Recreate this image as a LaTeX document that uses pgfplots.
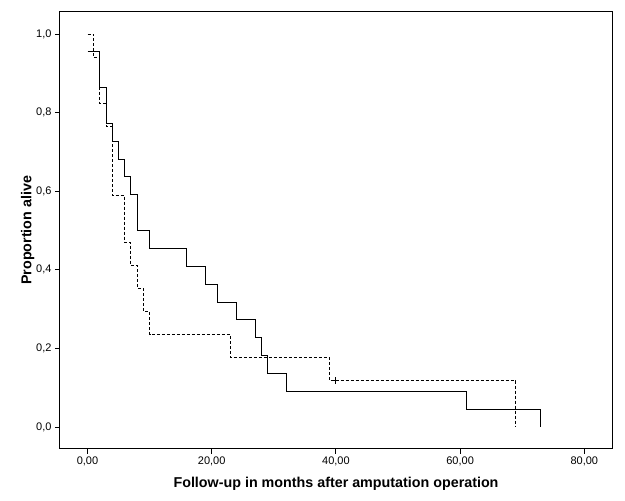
\documentclass[border=0pt]{standalone}
\usepackage{pgfplots}
\pgfplotsset{compat=1.18}
\usepackage{fontspec}
\setmainfont{Liberation Sans}
\begin{document}
\begin{tikzpicture}
\begin{axis}[
  name=ax,
  scale only axis,
  width=552pt, height=436.7pt,
  xmin=-4.43, xmax=84.46,
  ymin=-0.055, ymax=1.056,
  axis line style={line width=1pt},
  xtick={0,20,40,60,80},
  ytick={0,0.2,0.4,0.6,0.8,1.0},
  tick align=outside,
  major tick length=5pt,
  tick style={black, line width=1pt},
  xtick pos=bottom, ytick pos=left,
  x tick label style={/pgf/number format/.cd, use comma, fixed, fixed zerofill, precision=2, /tikz/.cd, font=\fontsize{11}{13}\selectfont},
  y tick label style={/pgf/number format/.cd, use comma, fixed, fixed zerofill, precision=1, /tikz/.cd, font=\fontsize{11}{13}\selectfont},
  /pgf/number format/assume math mode=true,
  xlabel={\bfseries Follow-up in months after amputation operation},
  ylabel={\bfseries Proportion alive},
  label style={font=\fontsize{14.3}{17}\selectfont},
  xlabel style={yshift=-4pt},
  ylabel style={yshift=-5pt},
  clip=false,
]
\addplot[const plot, black, line width=1pt, dash pattern=on 3pt off 2pt] coordinates {
(0,1) (0.93,0.9412) (2,0.8235) (3,0.7647) (4,0.5882) (6,0.4706) (7,0.4118) (8,0.3529) (9,0.2941) (10,0.2353) (23,0.1765) (39,0.1176) (69,0)
};
\addplot[const plot, black, line width=1pt] coordinates {
(0,0.9545) (2,0.8636) (3,0.7727) (4,0.7273) (5,0.6818) (6,0.6364) (7,0.5909) (8,0.5) (10,0.4545) (16,0.4091) (19,0.3636) (21,0.3182) (24,0.2727) (27,0.2273) (28,0.1818) (29,0.1364) (32,0.0909) (61,0.0455) (73,0)
};
\addplot[only marks, mark=+, mark size=3.5pt, black, line width=1pt] coordinates {(40,0.1176)};
\end{axis}
\pgfresetboundingbox
\path ([shift={(-60pt,-51.3pt)}]ax.south west) rectangle ([shift={(13pt,12pt)}]ax.north east);
\end{tikzpicture}
\end{document}
